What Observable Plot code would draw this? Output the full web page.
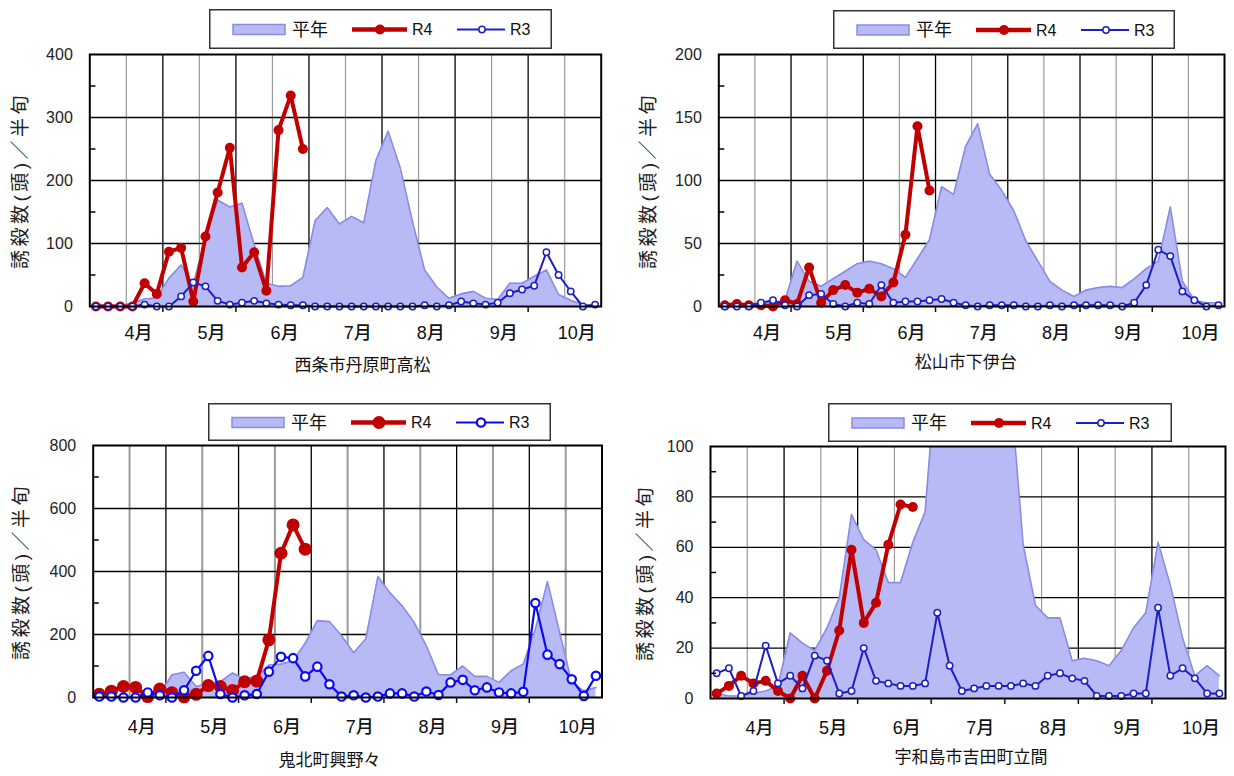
<!DOCTYPE html>
<html><head><meta charset="utf-8">
<script src="https://cdn.jsdelivr.net/npm/d3@7"></script>
<script src="https://cdn.jsdelivr.net/npm/@observablehq/plot@0.6"></script>
<style>
body{margin:0;background:#fff;}
#root{position:relative;width:1234px;height:776px;overflow:hidden;background:#fff;}
</style></head><body><div id="root"></div>
<script>
// ---- categories (半旬, 6 per month, April..October) ----
const halfXun = d3.range(42);
const months = ["4月", "5月", "6月", "7月", "8月", "9月", "10月"];
const seriesNames = ["平年", "R4", "R3"];
const yTitle = "誘殺数(頭)／半旬";

// ---- 西条市丹原町高松 ----
const saijoHeinen = [2,2,2,5,12,14,45,66,35,110,169,158,164,98,37,32,33,46,136,157,131,143,133,232,278,220,135,58,31,13,20,24,13,11,37,37,48,58,19,10,3,2];
const saijoR4 = [0,0,0,0,37,20,87,93,8,111,181,252,62,86,25,280,335,250];
const saijoR3 = [0,0,0,0,3,0,0,16,38,32,9,3,6,9,5,3,2,2,0,0,0,0,0,0,0,0,0,2,0,2,8,5,3,6,21,27,33,86,50,24,0,3];

// ---- 松山市下伊台 ----
const matsuyamaHeinen = [2,2,2,3,3,5,36,20,16,22,28,34,36,34,30,23,38,53,95,89,127,145,105,92,76,52,36,20,13,8,13,15,16,15,22,30,36,79,20,5,3,3];
const matsuyamaR4 = [1,2,1,1,0,5,2,31,3,13,17,11,14,8,19,57,143,92];
const matsuyamaR3 = [0,0,0,3,5,1,0,9,10,2,0,3,2,17,3,4,4,5,6,3,1,0,1,1,1,0,0,1,0,1,1,1,1,0,3,17,45,40,12,5,0,1];

// ---- 鬼北町興野々 ----
const kihokuHeinen = [5,5,5,5,5,10,72,80,35,45,50,78,58,68,103,106,117,172,244,241,196,142,186,384,332,291,238,164,72,72,100,67,67,48,85,106,217,368,207,48,21,32];
const kihokuR4 = [10,20,35,32,3,27,15,2,10,38,35,22,50,52,183,458,548,471];
const kihokuR3 = [3,3,0,0,16,7,0,23,85,132,11,0,7,11,82,129,125,67,98,42,3,7,0,3,13,13,3,19,8,48,56,23,32,16,13,18,300,136,106,58,5,69];

// ---- 宇和島市吉田町立間 ----
const uwajimaHeinen = [2,1,1,2,3,5,26,22,19,28,40,73,63,59,46,46,62,74,135,150,170,180,175,150,121,61,37,32,32,15,16,15,13,19,28,34,62,45,24,9,13,9];
const uwajimaR4 = [2,5,9,6,7,3,0,9,0,11,27,59,30,38,61,77,76];
const uwajimaR3 = [10,12,1,3,21,6,9,4,17,15,2,3,20,7,6,5,5,6,34,13,3,4,5,5,5,6,5,9,10,8,7,1,1,1,2,2,36,9,12,8,2,2];

// ---- styling ----
const FONT = '"Liberation Sans","Noto Sans CJK JP",sans-serif';
const AREA_FILL = "#b8baf5";
const AREA_STROKE = "#8a8ce2";
const R4_COLOR = "#c00000";
const monthEdges = d3.range(1, 7).map(m => m * 6 - 0.5);
const midMonths = d3.range(0, 7).map(m => m * 6 + 2.5);

const root = document.getElementById("root");

const panels = [
  {title: "西条市丹原町高松", heinen: saijoHeinen, r4: saijoR4, r3: saijoR3, yMax: 400, yStep: 100,
   L: 89.3, R: 600.7, T: 54, B: 306, ox: 0, titleDx: 17, titleDy: 59, xlabDy: 27, ytOff: 69,
   r3color: "#1c20c4", r3w: 2, r3r: 3.2, r3sw: 1.5, r4w: 4, r4r: 5, minorGrid: "#9a9a9a", minorW: 1.2,
   legend: {x: 209, y: 9, w: 343, h: 40}},
  {title: "松山市下伊台", heinen: matsuyamaHeinen, r4: matsuyamaR4, r3: matsuyamaR3, yMax: 200, yStep: 50,
   L: 718.3, R: 1224, T: 54, B: 306, ox: 617, titleDx: -6, titleDy: 56, xlabDy: 27, ytOff: 70,
   r3color: "#1c20c4", r3w: 2, r3r: 3.2, r3sw: 1.5, r4w: 4, r4r: 5, minorGrid: "#9a9a9a", minorW: 1.2,
   legend: {x: 833, y: 10, w: 342, h: 39}},
  {title: "鬼北町興野々", heinen: kihokuHeinen, r4: kihokuR4, r3: kihokuR3, yMax: 800, yStep: 200,
   L: 92.7, R: 601.5, T: 445, B: 697, ox: 0, titleDx: -18, titleDy: 63, xlabDy: 30, ytOff: 71,
   r3color: "#0a0af5", r3w: 2.2, r3r: 4.2, r3sw: 2.2, r4w: 4, r4r: 6.5, minorGrid: "#9a9a9a", minorW: 2,
   legend: {x: 208, y: 403, w: 343, h: 38}},
  {title: "宇和島市吉田町立間", heinen: uwajimaHeinen, r4: uwajimaR4, r3: uwajimaR3, yMax: 100, yStep: 20,
   L: 710, R: 1225, T: 446, B: 698, ox: 617, titleDx: 3, titleDy: 59, xlabDy: 30, ytOff: 65,
   r3color: "#1c20c4", r3w: 2, r3r: 3.2, r3sw: 1.5, r4w: 4, r4r: 5, minorGrid: "#9a9a9a", minorW: 1.2,
   legend: {x: 828, y: 403, w: 344, h: 39}}
];

function drawPanel(c) {
  const W = 617, mt = 20, mb = 80;
  const h = mt + (c.B - c.T) + mb;
  const rows = a => a.map((v, k) => ({i: halfXun[k], v}));
  const yTicks = d3.range(0, c.yMax + 1e-9, c.yStep);
  const yGrid = yTicks.filter(v => v > 0 && v < c.yMax);
  const yMinor = d3.range(c.yStep / 2, c.yMax, c.yStep);
  const chart = Plot.plot({
    width: W, height: h,
    marginLeft: c.L - c.ox, marginRight: c.ox + W - c.R, marginTop: mt, marginBottom: mb,
    x: {domain: [-0.5, 41.5], axis: null, label: null},
    y: {domain: [0, c.yMax], axis: null, label: null},
    style: {fontFamily: FONT, fontSize: "16px", background: "transparent", overflow: "visible", color: "#111"},
    marks: [
      Plot.ruleX(midMonths, {stroke: c.minorGrid, strokeWidth: c.minorW}),
      Plot.ruleX(monthEdges, {stroke: "#000", strokeWidth: 1.3}),
      Plot.ruleY(yGrid, {stroke: "#000", strokeWidth: 1.3}),
      Plot.areaY(rows(c.heinen), {x: "i", y: "v", fill: AREA_FILL, clip: true}),
      Plot.lineY(rows(c.heinen), {x: "i", y: "v", stroke: AREA_STROKE, strokeWidth: 1.6, clip: true}),
      Plot.line(rows(c.r4), {x: "i", y: "v", stroke: R4_COLOR, strokeWidth: c.r4w}),
      Plot.dot(rows(c.r4), {x: "i", y: "v", r: c.r4r, fill: R4_COLOR}),
      Plot.line(rows(c.r3), {x: "i", y: "v", stroke: c.r3color, strokeWidth: c.r3w}),
      Plot.dot(rows(c.r3), {x: "i", y: "v", r: c.r3r, fill: "#fff", stroke: c.r3color, strokeWidth: c.r3sw}),
      Plot.ruleY(yMinor, {x1: -0.5, x2: 0, stroke: "#000", strokeWidth: 1.5}),
      Plot.frame({stroke: "#000", strokeWidth: 2}),
      Plot.axisX({ticks: monthEdges, tickSize: 6, tickFormat: () => "", label: null, strokeWidth: 1.5}),
      Plot.text(yTicks, {frameAnchor: "left", y: d => d, dx: -17, textAnchor: "end", lineAnchor: "middle", fontSize: 16, fill: "#222"}),
      Plot.text(months, {x: (d, k) => 3.5 + 6 * k, frameAnchor: "bottom", dy: c.xlabDy, textAnchor: "middle", lineAnchor: "middle", fontSize: 18, fontWeight: 500, fill: "#111"}),
      Plot.text([c.title], {frameAnchor: "bottom", dx: c.titleDx, dy: c.titleDy, textAnchor: "middle", lineAnchor: "middle", fontSize: 17, fill: "#111"}),
      Plot.text([yTitle], {frameAnchor: "left", dx: -c.ytOff, rotate: -90, textAnchor: "middle", lineAnchor: "middle", fontSize: 19, fill: "#222", className: "ytitle"})
    ]
  });
  d3.select(chart).selectAll(".ytitle text").style("letter-spacing", "3.5px");
  chart.style.position = "absolute";
  chart.style.left = c.ox + "px";
  chart.style.top = (c.T - mt) + "px";
  root.appendChild(chart);

  // legend box
  const g = c.legend;
  const svg = d3.select(root).append("svg")
    .attr("width", g.w).attr("height", g.h)
    .style("position", "absolute").style("left", g.x + "px").style("top", g.y + "px")
    .style("font-family", FONT);
  svg.append("rect").attr("x", 0.75).attr("y", 0.75).attr("width", g.w - 1.5).attr("height", g.h - 1.5)
    .attr("fill", "#fff").attr("stroke", "#333").attr("stroke-width", 1.5);
  const cy = g.h / 2 + 0.5;
  svg.append("rect").attr("x", 24).attr("y", cy - 5).attr("width", 52).attr("height", 10)
    .attr("fill", AREA_FILL).attr("stroke", AREA_STROKE).attr("stroke-width", 1.5);
  svg.append("text").attr("x", 83).attr("y", cy).attr("dominant-baseline", "central")
    .attr("font-size", 18).attr("fill", "#111").text(seriesNames[0]);
  svg.append("line").attr("x1", 143).attr("x2", 198).attr("y1", cy).attr("y2", cy)
    .attr("stroke", R4_COLOR).attr("stroke-width", 4.5);
  svg.append("circle").attr("cx", 171).attr("cy", cy).attr("r", c.r4r).attr("fill", R4_COLOR);
  svg.append("text").attr("x", 203).attr("y", cy).attr("dominant-baseline", "central")
    .attr("font-size", 16).attr("fill", "#111").text(seriesNames[1]);
  svg.append("line").attr("x1", 248).attr("x2", 296).attr("y1", cy).attr("y2", cy)
    .attr("stroke", c.r3color).attr("stroke-width", c.r3w);
  svg.append("circle").attr("cx", 273).attr("cy", cy).attr("r", c.r3r).attr("fill", "#fff")
    .attr("stroke", c.r3color).attr("stroke-width", c.r3sw);
  svg.append("text").attr("x", 301).attr("y", cy).attr("dominant-baseline", "central")
    .attr("font-size", 16).attr("fill", "#111").text(seriesNames[2]);
}

panels.forEach(drawPanel);
</script></body></html>
